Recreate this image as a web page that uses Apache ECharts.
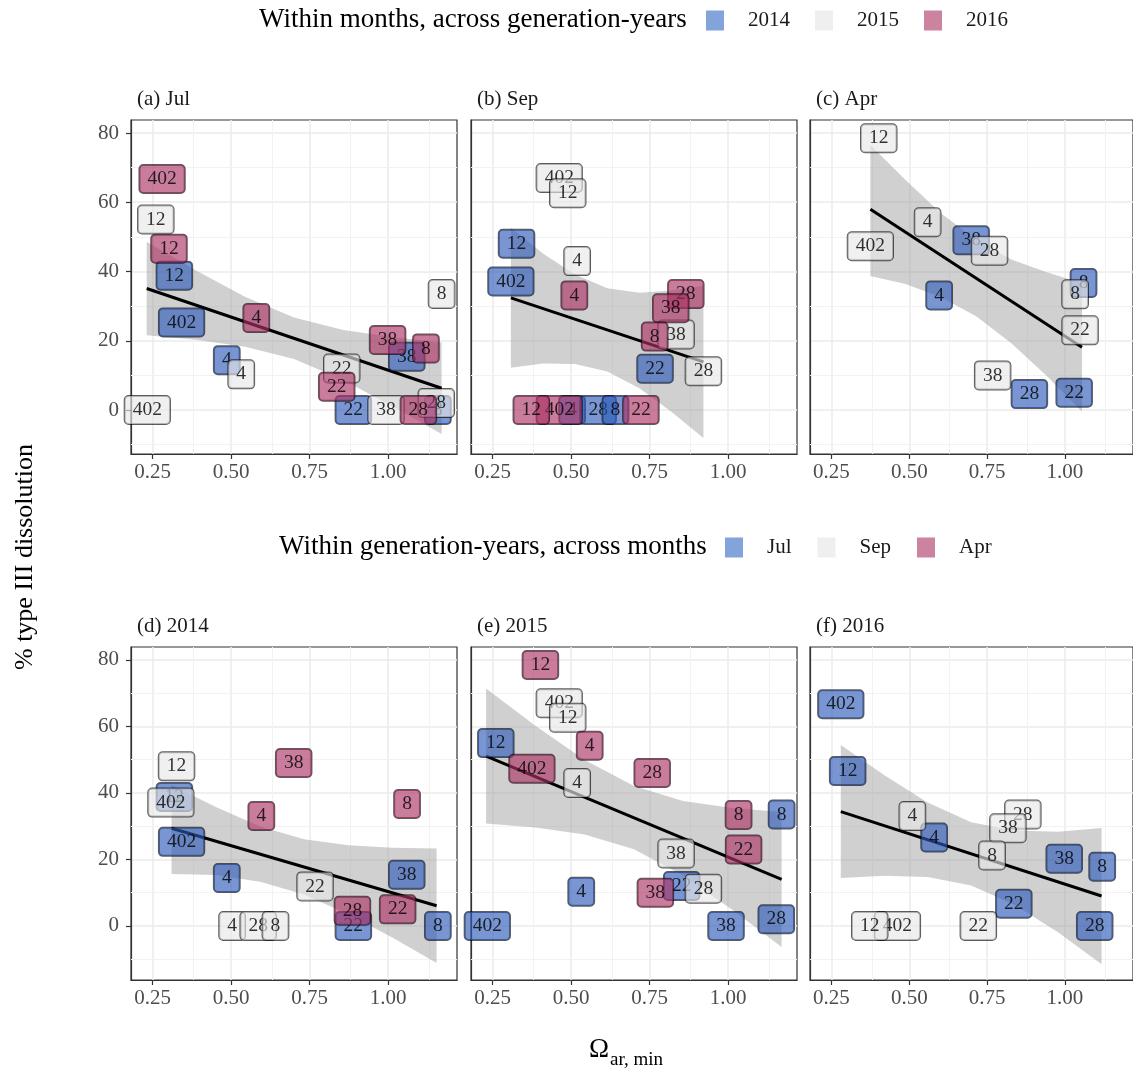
<!DOCTYPE html>
<html>
<head>
<meta charset="utf-8">
<script src="https://cdn.jsdelivr.net/npm/echarts@6/dist/echarts.min.js"></script>
<style>
  html, body { margin: 0; padding: 0; background: #fff; }
  #main { width: 1133px; height: 1070px; }
</style>
</head>
<body>
<div id="main"></div>
<script>
// points: [omega_ar_min, % type III dissolution, station]
var jul2014 = [[0.319, 38.8, "12"], [0.342, 25.3, "402"], [0.486, 14.4, "4"], [1.059, 15.4, "38"], [0.889, 0, "22"], [1.158, 0, "8"]];
var jul2015 = [[0.26, 55, "12"], [0.532, 10.3, "4"], [0.233, 0, "402"], [0.852, 12, "22"], [0.993, 0, "38"], [1.153, 2, "28"], [1.17, 33.5, "8"]];
var jul2016 = [[0.28, 66.7, "402"], [0.302, 46.6, "12"], [0.58, 26.6, "4"], [0.998, 20.2, "38"], [1.12, 17.8, "8"], [0.836, 6.7, "22"], [1.096, 0, "28"]];
var sep2014 = [[0.326, 48, "12"], [0.308, 37.1, "402"], [0.767, 11.9, "22"], [0.503, 0, "4"], [0.586, 0, "28"], [0.641, 0, "8"]];
var sep2015 = [[0.462, 67, "402"], [0.489, 62.6, "12"], [0.519, 43, "4"], [0.834, 21.8, "38"], [0.921, 11.2, "28"]];
var sep2016 = [[0.51, 33.1, "4"], [0.865, 33.5, "28"], [0.817, 29.4, "38"], [0.766, 21.2, "8"], [0.722, 0, "22"], [0.462, 0, "402"], [0.373, 0, "12"]];
var apr2014 = [[0.699, 49, "38"], [0.596, 33.1, "4"], [1.06, 36.7, "8"], [0.886, 4.6, "28"], [1.03, 5, "22"]];
var apr2015 = [[0.402, 78.5, "12"], [0.559, 54.2, "4"], [0.375, 47.3, "402"], [0.758, 46, "28"], [1.033, 33.4, "8"], [1.049, 23, "22"], [0.768, 10, "38"]];
var apr2016 = [];

// fitted lines (end points) and confidence bands [x, lower, upper]
var fitJul = [[0.231, 35.1], [1.17, 6.3]];
var bandJul = [[0.231, 21.6, 48.6], [0.388, 20.3, 40.3], [0.544, 18.3, 32.7], [0.7, 14.7, 26.7], [0.857, 8.7, 23.1], [1.013, 1.1, 21.1], [1.17, -6.9, 19.5]];
var fitSep = [[0.308, 32.4], [0.921, 13.9]];
var bandSep = [[0.308, 12.2, 52.6], [0.41, 13.4, 45.2], [0.512, 13.3, 39.1], [0.615, 11.1, 35.2], [0.717, 6.3, 33.9], [0.819, -0.5, 34.5], [0.921, -8.1, 35.9]];
var fitApr = [[0.375, 58], [1.055, 18.1]];
var bandApr = [[0.375, 38.7, 76.5], [0.488, 36.4, 66.4], [0.602, 32.6, 56.8], [0.715, 27.1, 49.1], [0.828, 19.3, 43.5], [0.942, 9.8, 39.8], [1.055, -0.4, 36.6]];
var fit2014 = [[0.31, 29.4], [1.154, 6.1]];
var band2014 = [[0.31, 15.6, 42.4], [0.451, 15.3, 35.8], [0.592, 13.3, 29.9], [0.732, 9.5, 26.1], [0.873, 3.5, 24.3], [1.013, -3.5, 23.5], [1.154, -11.1, 23.3]];
var fit2015 = [[0.229, 51.1], [1.17, 14]];
var band2015 = [[0.229, 30.8, 71.4], [0.386, 29.6, 60.2], [0.543, 27.5, 49.9], [0.7, 23.1, 42.1], [0.856, 15.2, 37.6], [1.013, 4.9, 35.5], [1.17, -6.3, 34.3]];
var fit2016 = [[0.28, 34.4], [1.118, 9]];
var band2016 = [[0.28, 14.4, 54.4], [0.42, 15.1, 45.3], [0.559, 14.7, 37.1], [0.699, 12.2, 31.2], [0.839, 6.3, 28.7], [0.978, -1.9, 28.3], [1.118, -11.5, 29.5]];

var xTicks = [0.25, 0.5, 0.75, 1.0];
var yTicks = [0, 20, 40, 60, 80];
var xMinor = [0.375, 0.625, 0.875, 1.125];
var yMinor = [-10, 10, 30, 50, 70];

var yearNames = ["2014", "2015", "2016"];
var monthNames = ["Jul", "Sep", "Apr"];
var fills = ["rgba(45,90,185,0.8)", "rgba(232,232,232,0.8)", "rgba(170,50,100,0.8)"];
var keyColors = ["#648CD2", "#EBEBEB", "#BE6487"];
var serif = "Liberation Serif";

var panels = [
  { title: "(a) Jul", sets: [jul2014, jul2015, jul2016], names: yearNames, fit: fitJul, band: bandJul },
  { title: "(b) Sep", sets: [sep2014, sep2015, sep2016], names: yearNames, fit: fitSep, band: bandSep },
  { title: "(c) Apr", sets: [apr2014, apr2015, apr2016], names: yearNames, fit: fitApr, band: bandApr },
  { title: "(d) 2014", sets: [jul2014, sep2014, apr2014], names: monthNames, fit: fit2014, band: band2014 },
  { title: "(e) 2015", sets: [jul2015, sep2015, apr2015], names: monthNames, fit: fit2015, band: band2015 },
  { title: "(f) 2016", sets: [jul2016, sep2016, apr2016], names: monthNames, fit: fit2016, band: band2016 }
];

var colLeft = [131, 471, 810];
var rowTop = [120, 647];
var rowH = [334, 333];
var yMin = [-12.7, -16.25];
var yMax = [83.75, 83.9];

var grids = [], xAxes = [], yAxes = [], series = [], titles = [];

function bandRenderer(band) {
  return function (params, api) {
    if (params.dataIndex !== 0) return null;
    var pts = band.map(function (b) { return api.coord([b[0], b[2]]); });
    for (var j = band.length - 1; j >= 0; j--) {
      pts.push(api.coord([band[j][0], band[j][1]]));
    }
    return {
      type: "polygon", shape: { points: pts },
      style: { fill: "rgba(153,153,153,0.46)" }
    };
  };
}

panels.forEach(function (p, i) {
  var r = Math.floor(i / 3), c = i % 3;
  grids.push({
    left: colLeft[c], top: rowTop[r], width: 326, height: rowH[r],
    show: true, backgroundColor: "#fff", borderColor: "#333", borderWidth: 1.2
  });
  xAxes.push({
    gridIndex: i, type: "value", min: 0.181, max: 1.219,
    axisLine: { show: true, onZero: false, lineStyle: { color: "#333", width: 1.2 } },
    axisTick: { show: true, length: 5, customValues: xTicks, lineStyle: { color: "#333", width: 1.2 } },
    axisLabel: {
      customValues: xTicks, margin: 8, color: "#4D4D4D", fontFamily: serif, fontSize: 21,
      formatter: function (v) { return v.toFixed(2); }
    },
    splitLine: { show: true, lineStyle: { color: "#EBEBEB", width: 1.5 } }
  });
  yAxes.push({
    gridIndex: i, type: "value", min: yMin[r], max: yMax[r],
    axisLine: { show: true, onZero: false, lineStyle: { color: "#333", width: 1.2 } },
    axisTick: { show: c === 0, length: 5, customValues: yTicks, lineStyle: { color: "#333", width: 1.2 } },
    axisLabel: { show: c === 0, customValues: yTicks, margin: 12, color: "#4D4D4D", fontFamily: serif, fontSize: 21 },
    splitLine: { show: true, lineStyle: { color: "#EBEBEB", width: 1.5 } }
  });
  titles.push({
    text: p.title, left: colLeft[c] + 6, top: rowTop[r] - 31, padding: 0,
    textStyle: { fontFamily: serif, fontSize: 21, fontWeight: "normal", color: "#1A1A1A" }
  });

  // confidence band
  series.push({
    type: "custom", xAxisIndex: i, yAxisIndex: i, z: 2, silent: true,
    data: p.band, encode: { x: 0, y: [1, 2] },
    renderItem: bandRenderer(p.band)
  });

  // fitted line, carries the minor grid lines
  series.push({
    type: "line", xAxisIndex: i, yAxisIndex: i, z: 3, silent: true,
    data: p.fit, symbol: "none",
    lineStyle: { color: "#000", width: 3 },
    markLine: {
      silent: true, z: 1, symbol: ["none", "none"], label: { show: false },
      emphasis: { disabled: true },
      lineStyle: { color: "#F2F2F2", width: 1, type: "solid" },
      data: xMinor.map(function (v) { return { xAxis: v }; })
        .concat(yMinor.map(function (v) { return { yAxis: v }; }))
    }
  });

  // labelled points, drawn over band and line
  p.sets.forEach(function (set, k) {
    series.push({
      type: "scatter", name: p.names[k], xAxisIndex: i, yAxisIndex: i,
      data: set, symbolSize: 1, z: 4, silent: true,
      itemStyle: { color: fills[k] },
      label: {
        show: true, position: "inside",
        formatter: function (q) { return q.data[2]; },
        fontFamily: serif, fontSize: 19.5, lineHeight: 20, color: "#000",
        backgroundColor: fills[k], borderColor: "rgba(0,0,0,0.8)", borderWidth: 1,
        borderRadius: 4, padding: [4, 8]
      },
      labelLayout: { hideOverlap: false },
      emphasis: { disabled: true }
    });
  });
});

var legendText = { fontFamily: serif, fontSize: 21, color: "#1A1A1A", padding: [0, 0, 0, 19] };

function keyItems(names) {
  return names.map(function (n, k) { return { name: n, itemStyle: { color: keyColors[k] } }; });
}

var option = {
  animation: false,
  backgroundColor: "#fff",
  title: titles,
  grid: grids,
  xAxis: xAxes,
  yAxis: yAxes,
  legend: [
    { data: keyItems(yearNames), left: 706, top: 10, padding: 0, icon: "rect", itemWidth: 18, itemHeight: 20,
      itemGap: 25, selectedMode: false, textStyle: legendText },
    { data: keyItems(monthNames), left: 725, top: 537, padding: 0, icon: "rect", itemWidth: 18, itemHeight: 20,
      itemGap: 26, selectedMode: false, textStyle: legendText }
  ],
  graphic: [
    { type: "text", x: 259, y: 20, silent: true,
      style: { text: "Within months, across generation-years", font: "27px " + serif, fill: "#000",
               textAlign: "left", textVerticalAlign: "middle" } },
    { type: "text", x: 279, y: 547, silent: true,
      style: { text: "Within generation-years, across months", font: "27px " + serif, fill: "#000",
               textAlign: "left", textVerticalAlign: "middle" } },
    { type: "text", x: 25, y: 557, rotation: Math.PI / 2, silent: true,
      style: { text: "% type III dissolution", font: "26px " + serif, fill: "#000",
               textAlign: "center", textVerticalAlign: "middle" } },
    { type: "text", x: 599, y: 1050, silent: true,
      style: { text: "\u03A9", font: "27px " + serif, fill: "#000", textAlign: "center", textVerticalAlign: "middle" } },
    { type: "text", x: 610, y: 1060, silent: true,
      style: { text: "ar, min", font: "19px " + serif, fill: "#000", textAlign: "left", textVerticalAlign: "middle" } }
  ],
  series: series
};

var chart = echarts.init(document.getElementById("main"));
chart.setOption(option);
</script>
</body>
</html>
